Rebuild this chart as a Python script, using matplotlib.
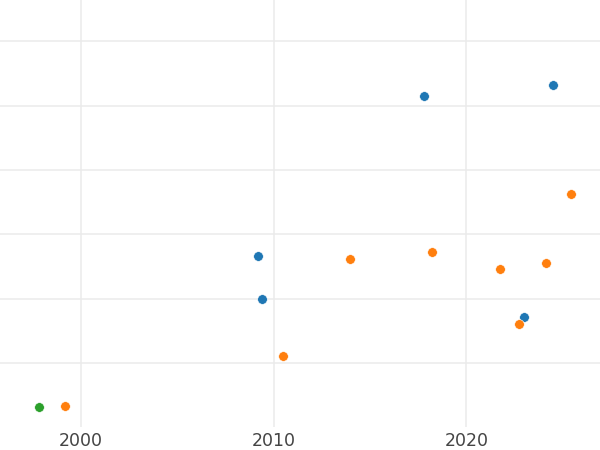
import matplotlib
matplotlib.use("Agg")
import matplotlib.pyplot as plt

# Data (x: year, y: value)
blue_x = [2017.81, 2024.48, 2009.20, 2009.40, 2022.98]
blue_y = [51.5, 53.2, 26.7, 20.0, 17.1]
orange_x = [2025.41, 2013.95, 2018.24, 2021.73, 2024.12, 2022.72, 2010.48, 1999.17]
orange_y = [36.3, 26.1, 27.2, 24.6, 25.5, 16.0, 11.1, 3.3]
green_x = [1997.82]
green_y = [3.2]
xticks = [2000, 2010, 2020]
yticks = [10, 20, 30, 40, 50, 60]

fig = plt.figure(figsize=(6, 4.5), dpi=100)
ax = fig.add_axes([0, 0.0504, 1, 0.9496])

ax.scatter(blue_x, blue_y, s=48, color="#1f77b4", edgecolor="white", linewidth=0.4, zorder=3)
ax.scatter(orange_x, orange_y, s=48, color="#ff7f0e", edgecolor="white", linewidth=0.4, zorder=3)
ax.scatter(green_x, green_y, s=48, color="#2ca02c", edgecolor="white", linewidth=0.4, zorder=3)

ax.set_xlim(1995.81, 2026.93)
ax.set_ylim(0, 66.45)
ax.set_xticks(xticks)
ax.set_xticklabels([str(t) for t in xticks])
ax.set_yticks(yticks)
ax.set_yticklabels([])
ax.tick_params(axis="both", length=0, labelsize=12.5, labelcolor="#444444", pad=3.5)
ax.grid(True, color="#ebebeb", linewidth=1.1)
ax.set_axisbelow(True)
for s in ax.spines.values():
    s.set_visible(False)

fig.savefig("out.png", dpi=100)
